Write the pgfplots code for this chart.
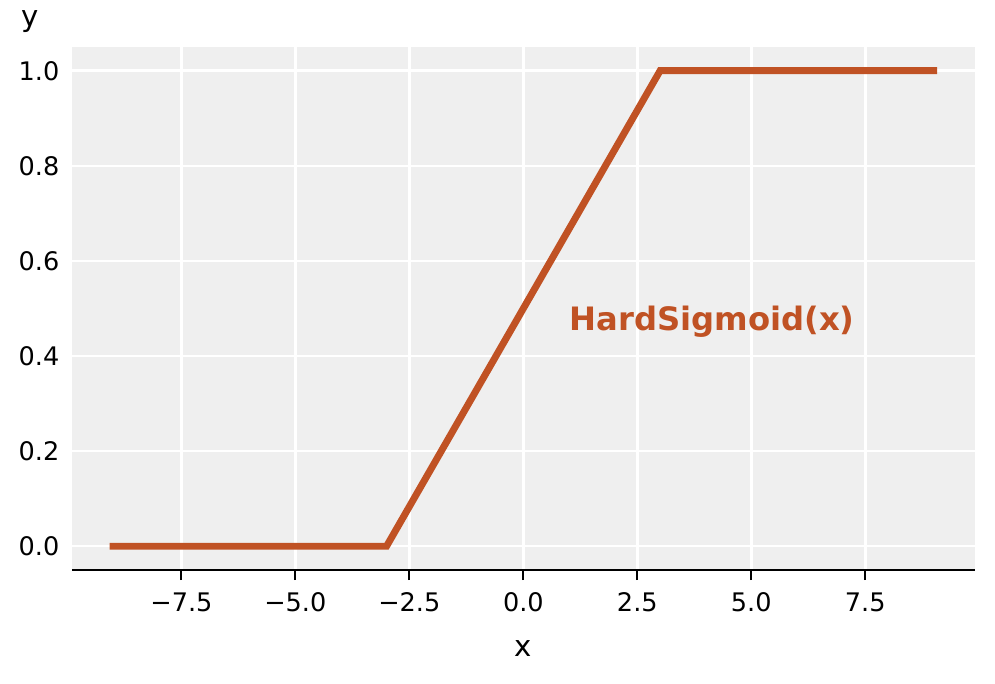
\documentclass[border=0pt]{standalone}
\usepackage{fontspec}
\setmainfont{DejaVu Sans}
\usepackage{pgfplots}
\pgfplotsset{compat=1.18}
\definecolor{hsline}{RGB}{192,82,36}
\definecolor{panel}{RGB}{239,239,239}
\begin{document}
\begin{tikzpicture}
\path[use as bounding box] (-25.9pt,-40.7pt) rectangle (332.3pt,205.2pt);
\begin{axis}[
    at={(0,0)}, anchor=south west,
    scale only axis,
    width=325pt, height=188.3pt,
    xmin=-9.9, xmax=9.9,
    ymin=-0.05, ymax=1.05,
    axis background/.style={fill=panel},
    axis line style={draw=none},
    axis x line*=bottom,
    axis y line*=left,
    x axis line style={draw=black, line width=0.8pt},
    xtick={-7.5,-5,-2.5,0,2.5,5,7.5},
    xticklabels={−7.5,−5.0,−2.5,0.0,2.5,5.0,7.5},
    ytick={0,0.2,0.4,0.6,0.8,1.0},
    yticklabels={0.0,0.2,0.4,0.6,0.8,1.0},
    tick label style={font=\fontsize{9.2}{11}\selectfont},
    xtick style={draw=black, line width=0.8pt},
    ytick style={draw=none},
    tick align=outside,
    major tick length=3.6pt,
    xticklabel style={yshift=-1pt},
    yticklabel style={xshift=2.6pt},
    grid=major,
    major grid style={draw=white, line width=0.9pt},
    clip=false,
]
\addplot[hsline, line width=2.5pt, line cap=rect] coordinates {(-9,0) (-3,0) (3,1) (9,1)};
\node[anchor=west, text=hsline, font=\fontsize{11.6}{13}\selectfont\bfseries] at (axis cs:0.8,0.473) {HardSigmoid(x)};
\end{axis}
\node[font=\fontsize{10.5}{12}\selectfont] at (162.4pt,-28.3pt) {x};
\node[font=\fontsize{10.5}{12}\selectfont] at (-15.1pt,197.3pt) {y};
\end{tikzpicture}
\end{document}
